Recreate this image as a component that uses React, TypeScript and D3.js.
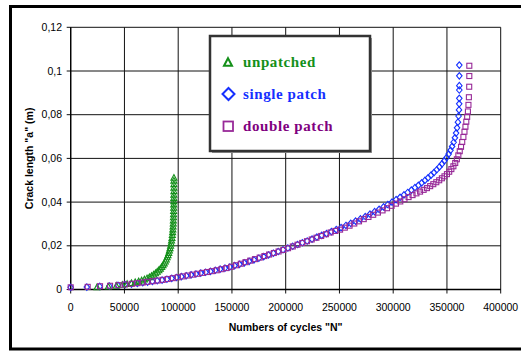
import React from "react";
import * as d3 from "d3";

const xTicks = [0, 50000, 100000, 150000, 200000, 250000, 300000, 350000, 400000];
const yTicks = [0, 0.02, 0.04, 0.06, 0.08, 0.1, 0.12];
const seriesNames = ["unpatched", "single patch", "double patch"];

// [N, a]
const unpatched: [number, number][] = [
  [24500, 0.0012], [35000, 0.0015], [42500, 0.0019], [48000, 0.0023], [52500, 0.0027],
  [56500, 0.0031], [60000, 0.0035], [63200, 0.0039], [66000, 0.0043], [68600, 0.0048],
  [71000, 0.0053], [73200, 0.0058], [75200, 0.0064], [77100, 0.007], [78900, 0.0076],
  [80500, 0.0083], [82000, 0.009], [83400, 0.0097], [84700, 0.0105], [85900, 0.0113],
  [87000, 0.0121], [88000, 0.013], [88900, 0.0139], [89700, 0.0149], [90500, 0.0159],
  [91200, 0.0169], [91800, 0.018], [92400, 0.0191], [92900, 0.0202], [93400, 0.0214],
  [93800, 0.0226], [94200, 0.0238], [94500, 0.0251], [94800, 0.0264], [95000, 0.0277],
  [95200, 0.029], [95400, 0.0304], [95500, 0.0318], [95600, 0.0332], [95700, 0.0346],
  [95750, 0.0361], [95800, 0.0376], [95850, 0.0391], [95900, 0.0406], [95900, 0.0421],
  [95950, 0.0436], [96000, 0.0452], [96000, 0.0468], [96000, 0.0484], [96000, 0.05],
  [96000, 0.0513],
];

const singlePatch: [number, number][] = [
  [0, 0.001], [15000, 0.0011], [27000, 0.0014], [36000, 0.0016], [44000, 0.0019],
  [50500, 0.0022], [56500, 0.0025], [62000, 0.0028], [67000, 0.0031], [71500, 0.0034],
  [76000, 0.0037], [80500, 0.004], [85000, 0.0043], [89500, 0.0047], [94000, 0.0051],
  [98500, 0.0055], [103000, 0.0059], [107500, 0.0063], [112000, 0.0067], [116500, 0.0071],
  [121000, 0.0075], [125500, 0.0079], [130000, 0.0083], [134500, 0.0088], [139000, 0.0093],
  [143500, 0.0098], [148000, 0.0103], [152500, 0.0109], [157000, 0.0115], [161500, 0.0122],
  [166000, 0.0129], [170500, 0.0136], [175000, 0.0143], [179500, 0.015], [184000, 0.0158],
  [188500, 0.0166], [193000, 0.0174], [197500, 0.0182], [202000, 0.019], [206500, 0.0198],
  [211000, 0.0206], [215500, 0.0214], [220000, 0.0222], [224500, 0.0231], [229000, 0.024],
  [233500, 0.0248], [238000, 0.0256], [242500, 0.0265], [247000, 0.0274], [251500, 0.0283],
  [256000, 0.0293], [260500, 0.0303], [265000, 0.0313], [269500, 0.0323], [274000, 0.0334],
  [278400, 0.0345], [282700, 0.0356], [286900, 0.0367], [291000, 0.0378], [295000, 0.0389],
  [298900, 0.04], [302700, 0.0411], [306400, 0.0422], [310000, 0.0433], [313500, 0.0444],
  [316900, 0.0455], [320200, 0.0466], [323400, 0.0477], [326500, 0.0488], [329500, 0.0499],
  [332400, 0.0511], [335200, 0.0523], [337900, 0.0535], [340500, 0.0548], [343000, 0.0561],
  [345400, 0.0575], [347600, 0.0589], [349700, 0.0604], [351600, 0.062], [353300, 0.0637],
  [354800, 0.0655], [356200, 0.0674], [357400, 0.0694], [358500, 0.0716], [359400, 0.074],
  [360200, 0.0766], [360800, 0.0794], [361200, 0.0822], [361400, 0.085], [361500, 0.0875],
  [361500, 0.0913], [361500, 0.0933], [361500, 0.0978], [361500, 0.1027],
];

const doublePatch: [number, number][] = [
  [0, 0.001], [15800, 0.0012], [27300, 0.0015], [36600, 0.0017], [44300, 0.002],
  [50500, 0.0023], [56800, 0.0026], [62000, 0.0029], [67000, 0.0032], [71300, 0.0035],
  [76300, 0.0038], [80900, 0.0041], [85600, 0.0044], [90200, 0.0048], [95000, 0.0052],
  [99600, 0.0056], [104200, 0.006], [108800, 0.0064], [113300, 0.0068], [117800, 0.0072],
  [122300, 0.0076], [126800, 0.008], [131300, 0.0084], [135800, 0.0088], [140300, 0.0093],
  [144800, 0.0098], [149300, 0.0104], [153800, 0.0111], [158200, 0.0118], [162600, 0.0125],
  [167000, 0.0132], [171400, 0.0139], [175800, 0.0146], [180200, 0.0153], [184600, 0.016],
  [189000, 0.0167], [193400, 0.0174], [197800, 0.0181], [202200, 0.0189], [206600, 0.0197],
  [211000, 0.0205], [215400, 0.0213], [219800, 0.0221], [224200, 0.0229], [228600, 0.0237],
  [233000, 0.0245], [237400, 0.0253], [241800, 0.0261], [246200, 0.0268], [250600, 0.0274],
  [255000, 0.0283], [259400, 0.0292], [263800, 0.0302], [268200, 0.0312], [272600, 0.0322],
  [277000, 0.0332], [281400, 0.0342], [285800, 0.0352], [290100, 0.0362], [294300, 0.0372],
  [298500, 0.0383], [302600, 0.0393], [306600, 0.0403], [310500, 0.0413], [314300, 0.0423],
  [318000, 0.0432], [321600, 0.044], [325000, 0.0448], [328300, 0.0456], [331400, 0.0464],
  [334400, 0.0473], [337300, 0.0482], [340100, 0.0491], [342800, 0.05], [345300, 0.0509],
  [347700, 0.0518], [350000, 0.0528], [352100, 0.0539], [354100, 0.0551], [356000, 0.0564],
  [357700, 0.0579], [359200, 0.0596], [360600, 0.0614], [361900, 0.0633], [363100, 0.0653],
  [364200, 0.0675], [365300, 0.0698], [366300, 0.0722], [367200, 0.0745], [368000, 0.0768],
  [368800, 0.079], [369500, 0.0815], [370000, 0.0845], [370400, 0.088], [370700, 0.0928],
  [370800, 0.0977], [370800, 0.1024],
];

const GREEN = "#14901a";
const BLUE = "#1530ff";
const PURPLE = "#982a98";

const W = 521;
const H = 352;
const x = d3.scaleLinear().domain([0, 400000]).range([70.7, 500.7]);
const y = d3.scaleLinear().domain([0, 0.12]).range([289.5, 27.3]);

const fmtY = (v: number) => (v === 0 ? "0" : d3.format("")(v).replace(".", ","));

function triPath(cx: number, cy: number, s: number) {
  const h = s * 0.95;
  return `M${cx},${cy - h / 2}L${cx + s / 2},${cy + h / 2}L${cx - s / 2},${cy + h / 2}Z`;
}
function diaPath(cx: number, cy: number, w: number, h: number) {
  return `M${cx},${cy - h / 2}L${cx + w / 2},${cy}L${cx},${cy + h / 2}L${cx - w / 2},${cy}Z`;
}

export default function App() {
  const sans = "'Liberation Sans', Arial, sans-serif";
  const serif = "'Liberation Serif', 'Times New Roman', serif";
  const x0 = x.range()[0];
  const x1 = x.range()[1];
  const y0 = y.range()[0];
  const y1 = y.range()[1];
  const lg = { x: 210, y: 36, w: 160, h: 115 };
  return (
    <svg
      width={W}
      height={H}
      style={{ position: "absolute", left: 0, top: 0, background: "#fff" }}
    >
      <rect x={0} y={0} width={W} height={H} fill="#fff" />
      {/* outer frame */}
      <rect x={10.5} y={6.5} width={W + 10} height={342.5} fill="#fff" stroke="#000" strokeWidth={3} />

      {/* gridlines */}
      {yTicks.map((t) => (
        <line key={"gy" + t} x1={x0 - 4} x2={x1} y1={y(t)} y2={y(t)} stroke="#111" strokeWidth={1} />
      ))}
      {xTicks.map((t) => (
        <line key={"gx" + t} x1={x(t)} x2={x(t)} y1={y1} y2={y0 + 4} stroke="#111" strokeWidth={1} />
      ))}
      <line x1={x0} x2={x0} y1={y1} y2={y0} stroke="#000" strokeWidth={1.3} />
      <line x1={x0} x2={x1} y1={y0} y2={y0} stroke="#000" strokeWidth={1.3} />

      {/* tick labels */}
      {yTicks.map((t) => (
        <text key={"ly" + t} x={62} y={y(t)} dy="0.35em" textAnchor="end" fontFamily={sans} fontSize={10.5} fill="#000">
          {fmtY(t)}
        </text>
      ))}
      {xTicks.map((t) => (
        <text key={"lx" + t} x={x(t)} y={310.5} textAnchor="middle" fontFamily={sans} fontSize={10.5} fill="#000">
          {String(t)}
        </text>
      ))}

      {/* axis titles */}
      <text x={(x0 + x1) / 2} y={330.5} textAnchor="middle" fontFamily={sans} fontWeight="bold" fontSize={10.5}>
        Numbers of cycles "N"
      </text>
      <text
        transform={`translate(33,${(y0 + y1) / 2}) rotate(-90)`}
        textAnchor="middle"
        fontFamily={sans}
        fontWeight="bold"
        fontSize={10.5}
      >
        Crack length "a" (m)
      </text>

      {/* series */}
      <g fill="none" stroke={BLUE} strokeWidth={1.1}>
        {singlePatch.map(([n, a], i) => (
          <path key={"b" + i} d={diaPath(x(n), y(a), 5.5, 6.5)} />
        ))}
      </g>
      <g fill="none" stroke={GREEN} strokeWidth={1.1}>
        {unpatched.map(([n, a], i) => (
          <path key={"g" + i} d={triPath(x(n), y(a), 6)} />
        ))}
      </g>
      <g fill="none" stroke={PURPLE} strokeWidth={1.1}>
        {doublePatch.map(([n, a], i) => (
          <rect key={"p" + i} x={x(n) - 2.5} y={y(a) - 2.5} width={5} height={5} />
        ))}
      </g>

      {/* legend */}
      <rect x={lg.x + 2} y={lg.y + 2} width={lg.w} height={lg.h} fill="#999" />
      <rect x={lg.x} y={lg.y} width={lg.w} height={lg.h} fill="#fff" stroke="#333" strokeWidth={2.5} />
      <path d={triPath(228, 62, 8)} fill="none" stroke={GREEN} strokeWidth={2} />
      <path d={diaPath(228.5, 94, 12, 12)} fill="none" stroke={BLUE} strokeWidth={2} />
      <rect x={223.5} y={121.5} width={9.5} height={9.5} fill="none" stroke={PURPLE} strokeWidth={1.8} />
      {seriesNames.map((s, i) => (
        <text
          key={s}
          x={243}
          y={[62, 94, 126.5][i]}
          dy="0.32em"
          fontFamily={serif}
          fontWeight="bold"
          fontSize={15}
          letterSpacing={0.6}
          fill={[GREEN, BLUE, "#800080"][i]}
        >
          {s}
        </text>
      ))}
    </svg>
  );
}
